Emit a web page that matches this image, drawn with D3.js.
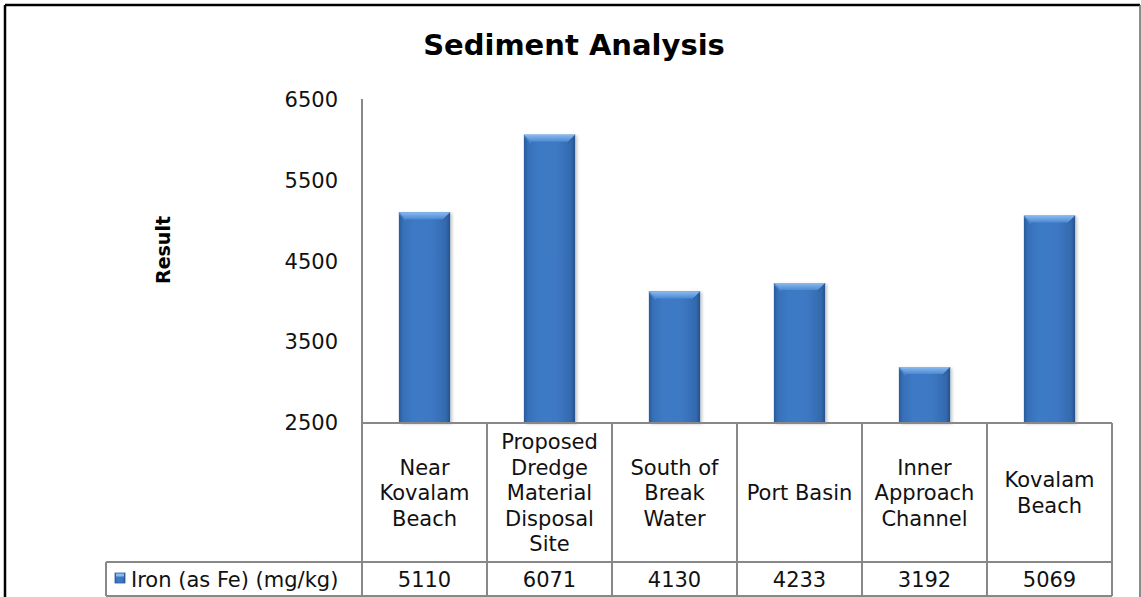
<!DOCTYPE html>
<html>
<head>
<meta charset="utf-8">
<script src="https://cdn.jsdelivr.net/npm/d3@7"></script>
<style>
  html, body { margin: 0; padding: 0; background: #fff; }
  svg { display: block; }
  text { font-family: "DejaVu Sans", Verdana, sans-serif; fill: #111; }
</style>
</head>
<body>
<svg id="chart" width="1141" height="597"></svg>
<script>
const chartTitle = "Sediment Analysis";
const yAxisTitle = "Result";
const seriesName = "Iron (as Fe) (mg/kg)";
const categories = [
  ["Near", "Kovalam", "Beach"],
  ["Proposed", "Dredge", "Material", "Disposal", "Site"],
  ["South of", "Break", "Water"],
  ["Port Basin"],
  ["Inner", "Approach", "Channel"],
  ["Kovalam", "Beach"]
];
const values = [5110, 6071, 4130, 4233, 3192, 5069];
const yTicks = [2500, 3500, 4500, 5500, 6500];

const svg = d3.select("#chart");
const W = 1141, H = 597;
const plotLeft = 362, plotRight = 1112, plotTop = 100, plotBottom = 423;
const catRowBottom = 562, valRowBottom = 596, legendLeft = 106;
const grid = "#888888";

// defs: bar gradients
const defs = svg.append("defs");
const g1 = defs.append("linearGradient").attr("id", "barH").attr("x1", "0").attr("x2", "1").attr("y1", "0").attr("y2", "0");
[[0, "#2a5a9a"], [0.08, "#3670b8"], [0.3, "#3e7ac6"], [0.65, "#3d78c3"], [0.92, "#336aaf"], [1, "#24508c"]]
  .forEach(([o, c]) => g1.append("stop").attr("offset", o).attr("stop-color", c));
const g2 = defs.append("linearGradient").attr("id", "barTop").attr("x1", "0").attr("x2", "0").attr("y1", "0").attr("y2", "1");
[[0, "#8bbaf0"], [1, "#4b89d2"]].forEach(([o, c]) => g2.append("stop").attr("offset", o).attr("stop-color", c));
const f = defs.append("filter").attr("id", "shadow").attr("x", "-20%").attr("y", "-10%").attr("width", "150%").attr("height", "130%");
f.append("feDropShadow").attr("dx", 2).attr("dy", 1).attr("stdDeviation", 1.5).attr("flood-color", "#000").attr("flood-opacity", 0.22);

// background and outer frame
svg.append("rect").attr("x", 0).attr("y", 0).attr("width", W).attr("height", H).attr("fill", "#fff");
svg.append("line").attr("x1", 5).attr("x2", 1140).attr("y1", 5).attr("y2", 5).attr("stroke", "#000").attr("stroke-width", 2.5);
svg.append("line").attr("x1", 5).attr("x2", 5).attr("y1", 5).attr("y2", H).attr("stroke", "#000").attr("stroke-width", 2.5);
svg.append("line").attr("x1", 1140).attr("x2", 1140).attr("y1", 5).attr("y2", H).attr("stroke", "#666").attr("stroke-width", 1.5);

// title
svg.append("text").attr("x", 574).attr("y", 55).attr("text-anchor", "middle")
  .style("font-size", "29px").style("font-weight", "bold").style("fill", "#000").text(chartTitle);

// scales
const x = d3.scaleBand().domain(d3.range(categories.length)).range([plotLeft, plotRight]).padding(0);
const y = d3.scaleLinear().domain([2500, 6500]).range([plotBottom, plotTop]);
const barW = x.bandwidth() * 0.41;

// y axis
const yAxis = svg.append("g").attr("transform", `translate(${plotLeft},0)`)
  .call(d3.axisLeft(y).tickValues(yTicks).tickSize(0).tickPadding(24).tickFormat(d3.format("d")));
yAxis.select(".domain").remove();
yAxis.selectAll("text").style("font-size", "21px").style("font-family", '"DejaVu Sans", Verdana, sans-serif').attr("fill", "#111");
svg.append("line").attr("x1", plotLeft).attr("x2", plotLeft).attr("y1", y(6500) - 1).attr("y2", valRowBottom)
  .attr("stroke", grid).attr("stroke-width", 2);

// y axis title
svg.append("text").attr("transform", `translate(170,250) rotate(-90)`).attr("text-anchor", "middle")
  .style("font-size", "19px").style("font-weight", "bold").style("fill", "#000").text(yAxisTitle);

// bars
const bars = svg.append("g").selectAll("g").data(values).join("g")
  .attr("transform", (d, i) => `translate(${x(i) + (x.bandwidth() - barW) / 2},0)`);
bars.append("rect").attr("x", 0).attr("width", barW)
  .attr("y", d => y(d)).attr("height", d => plotBottom - y(d))
  .attr("fill", "url(#barH)").attr("filter", "url(#shadow)");
const bev = 7;
bars.append("path")
  .attr("d", d => `M0,${y(d)} L${barW},${y(d)} L${barW - bev},${y(d) + bev} L${bev},${y(d) + bev} Z`)
  .attr("fill", "url(#barTop)");
bars.append("path")
  .attr("d", d => `M0,${y(d)} L${bev},${y(d) + bev} L${bev},${y(d) + bev + 2} L0,${y(d) + 2} Z`)
  .attr("fill", "#5d97da").attr("opacity", 0.6);
bars.append("path")
  .attr("d", d => `M${barW},${y(d)} L${barW - bev},${y(d) + bev} L${barW - bev},${y(d) + bev + 2} L${barW},${y(d) + 2} Z`)
  .attr("fill", "#2d5fa0").attr("opacity", 0.6);

// data table grid
const tbl = svg.append("g").attr("stroke", grid).attr("stroke-width", 2).attr("fill", "none");
tbl.append("line").attr("x1", plotLeft).attr("x2", plotRight).attr("y1", plotBottom).attr("y2", plotBottom);
tbl.append("line").attr("x1", legendLeft).attr("x2", plotRight).attr("y1", catRowBottom).attr("y2", catRowBottom);
tbl.append("line").attr("x1", legendLeft).attr("x2", plotRight).attr("y1", valRowBottom).attr("y2", valRowBottom);
tbl.append("line").attr("x1", legendLeft).attr("x2", legendLeft).attr("y1", catRowBottom).attr("y2", valRowBottom);
tbl.selectAll(".vl").data(d3.range(1, categories.length + 1)).join("line")
  .attr("x1", i => x(i - 1) + x.bandwidth()).attr("x2", i => x(i - 1) + x.bandwidth())
  .attr("y1", plotBottom).attr("y2", valRowBottom);

// category labels
const lineH = 25.5;
const midBase = (plotBottom + catRowBottom) / 2 + 7.5;
const cat = svg.append("g").selectAll("text").data(categories).join("text")
  .attr("text-anchor", "middle").style("font-size", "21px");
cat.each(function (lines, i) {
  const t = d3.select(this);
  lines.forEach((ln, k) => {
    t.append("tspan").attr("x", x(i) + x.bandwidth() / 2)
      .attr("y", midBase + (k - (lines.length - 1) / 2) * lineH).text(ln);
  });
});

// values row
svg.append("g").selectAll("text").data(values).join("text")
  .attr("x", (d, i) => x(i) + x.bandwidth() / 2).attr("y", 587)
  .attr("text-anchor", "middle").style("font-size", "21px").text(d => d);

// legend key
svg.append("rect").attr("x", 115).attr("y", 573).attr("width", 10).attr("height", 10)
  .attr("fill", "url(#barH)").attr("stroke", "#2a5898").attr("stroke-width", 0.8);
svg.append("rect").attr("x", 116).attr("y", 573.5).attr("width", 8).attr("height", 3).attr("fill", "#8bbaf0");
svg.append("text").attr("x", 131).attr("y", 587).style("font-size", "21px").text(seriesName);
</script>
</body>
</html>
